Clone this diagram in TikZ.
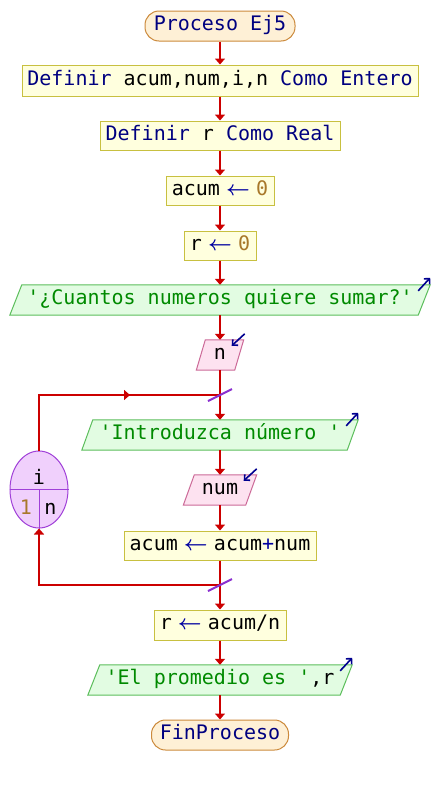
\documentclass[tikz,border=0pt]{standalone}
\usepackage{fontspec}
\setmonofont{DejaVu Sans Mono}
\usetikzlibrary{arrows.meta,shapes.geometric,backgrounds,calc}
\definecolor{kw}{HTML}{000080}
\definecolor{numc}{HTML}{A8782A}
\definecolor{strc}{HTML}{008A00}
\definecolor{asg}{HTML}{0000A0}
\definecolor{flowc}{HTML}{CC0000}
\definecolor{procF}{HTML}{FFFFDE}
\definecolor{procB}{HTML}{C8C040}
\definecolor{termF}{HTML}{FEF0D6}
\definecolor{termB}{HTML}{CC8A3C}
\definecolor{outF}{HTML}{E2FCE2}
\definecolor{outB}{HTML}{5CBE5C}
\definecolor{inF}{HTML}{FDE2F0}
\definecolor{inB}{HTML}{CC6A98}
\definecolor{loopF}{HTML}{F0D0FC}
\definecolor{loopB}{HTML}{A040D8}
\definecolor{slashc}{HTML}{8A30D0}
\definecolor{ioarrow}{HTML}{000090}
\newcommand\iobox[4]{%
  \begin{scope}[on background layer]
    \draw[fill=#3, draw=#4, line width=1pt]
      ($(#1.south west)+(-#2,0)$) -- ($(#1.north west)+(#2,0)$) --
      ($(#1.north east)+(#2,0)$) -- ($(#1.south east)+(-#2,0)$) -- cycle;
  \end{scope}}
\newcommand\asgarrow{\makebox[0.602em][c]{\color{asg}$\boldsymbol{\leftarrow}$}}
\usepackage{amsmath}
\tikzset{
  base/.style={font=\ttfamily\fontsize{20}{24}\selectfont, inner sep=0pt,
    text height=14pt, text depth=5pt, align=center},
  proc/.style={base, draw=procB, fill=procF, line width=1pt, minimum height=29pt},
  term/.style={base, draw=termB, fill=termF, line width=1pt, rounded corners=14pt, minimum height=30pt},
  io/.style={base, minimum height=30pt},
  flowline/.style={draw=flowc, line width=2.2pt},
  flow/.style={flowline, -{Triangle[length=6pt,width=10pt]}},
  slash/.style={draw=slashc, line width=2pt},
  outarrow/.style={draw=ioarrow, line width=1.6pt, -{Straight Barb[length=4pt,width=8pt]}},
  loopnode/.style={ellipse, draw=loopB, fill=loopF, line width=1pt, minimum width=58pt, minimum height=77pt, inner sep=0pt},
  looptext/.style={font=\ttfamily\fontsize{20}{24}\selectfont, inner sep=0pt, anchor=base}
}
\begin{document}
\begin{tikzpicture}[x=1pt,y=-1pt]
\useasboundingbox (0,0) rectangle (434,785);
\begin{scope}[on background layer]
  \fill[white] (0,0) rectangle (434,785);
\end{scope}

% nodes
\node[term, minimum width=150pt] (start) at (220,26) {\color{kw}Proceso Ej5};
\node[proc, minimum width=396pt, minimum height=31pt] (d1) at (220,80.5) {{\color{kw}Definir} acum,num,i,n {\color{kw}Como Entero}};
\node[proc, minimum width=240pt] (d2) at (220,135.5) {{\color{kw}Definir} r {\color{kw}Como Real}};
\node[proc, minimum width=108pt] (a1) at (220,190.5) {acum \asgarrow{} {\color{numc}0}};
\node[proc, minimum width=72pt] (a2) at (220,245.5) {r \asgarrow{} {\color{numc}0}};
\node[io, minimum width=408pt] (o1) at (220,300) {\color{strc}'¿Cuantos numeros quiere sumar?'};
\node[io, minimum width=38pt] (i1) at (220,355) {n};
\node[io, minimum width=265pt] (o2) at (220,435) {\color{strc}'Introduzca número '};
\node[io, minimum width=62pt] (i2) at (220,490) {num};
\node[proc, minimum width=192pt] (a3) at (220,545.5) {acum \asgarrow{} acum{\color{asg}+}num};
\node[proc, minimum width=132pt, minimum height=30pt] (a4) at (220,625) {r \asgarrow{} acum/n};
\node[io, minimum width=252pt] (o3) at (220,680) {{\color{strc}'El promedio es '},r};
\node[term, minimum width=137pt] (end) at (220,735) {\color{kw}FinProceso};

\iobox{o1}{6}{outF}{outB}
\iobox{i1}{4.5}{inF}{inB}
\iobox{o2}{5.5}{outF}{outB}
\iobox{i2}{5.5}{inF}{inB}
\iobox{o3}{6}{outF}{outB}

% loop node
\node[loopnode] (loop) at (39,489.5) {};
\draw[draw=loopB, line width=1pt] (loop.west) -- (loop.east);
\draw[draw=loopB, line width=1pt] (loop.center) -- (loop.south);
\node[looptext] (lv) at (39,484) {i};
\node[looptext, text=numc] (lf) at (26,514) {1};
\node[looptext] (lt) at (50.5,514) {n};

% main flow
\draw[flow] (start.south) -- (d1.north);
\draw[flow] (d1.south) -- (d2.north);
\draw[flow] (d2.south) -- (a1.north);
\draw[flow] (a1.south) -- (a2.north);
\draw[flow] (a2.south) -- (o1.north);
\draw[flow] (o1.south) -- (i1.north);
\draw[flow] (i1.south) -- (o2.north);
\draw[flow] (o2.south) -- (i2.north);
\draw[flow] (i2.south) -- (a3.north);
\draw[flow] (a3.south) -- (a4.north);
\draw[flow] (a4.south) -- (o3.north);
\draw[flow] (o3.south) -- (end.north);

% loop connectors
\coordinate (jt) at (220,395);
\coordinate (jb) at (220,585);
\coordinate (mt) at (130,395);
\draw[flowline] (loop.north) |- (jt);
\draw[flow] (loop.north) |- (mt);
\draw[flow] (jb) -| (loop.south);
\draw[slash] ([shift={(-12,6)}]jt) -- ([shift={(12,-6)}]jt);
\draw[slash] ([shift={(-12,6)}]jb) -- ([shift={(12,-6)}]jb);

% io arrows
\draw[outarrow] ([shift={(-12,6)}]$(o1.north east)+(6,0)$) -- ([shift={(0,-7)}]$(o1.north east)+(6,0)$);
\draw[outarrow] ([shift={(-12,6)}]$(o2.north east)+(5.5,0)$) -- ([shift={(0,-7)}]$(o2.north east)+(5.5,0)$);
\draw[outarrow] ([shift={(-12,6)}]$(o3.north east)+(6,0)$) -- ([shift={(0,-7)}]$(o3.north east)+(6,0)$);
\draw[outarrow] ([shift={(1,-6)}]$(i1.north east)+(4.5,0)$) -- ([shift={(-12,6)}]$(i1.north east)+(4.5,0)$);
\draw[outarrow] ([shift={(0,-6)}]$(i2.north east)+(5.5,0)$) -- ([shift={(-13,6)}]$(i2.north east)+(5.5,0)$);
\end{tikzpicture}
\end{document}
